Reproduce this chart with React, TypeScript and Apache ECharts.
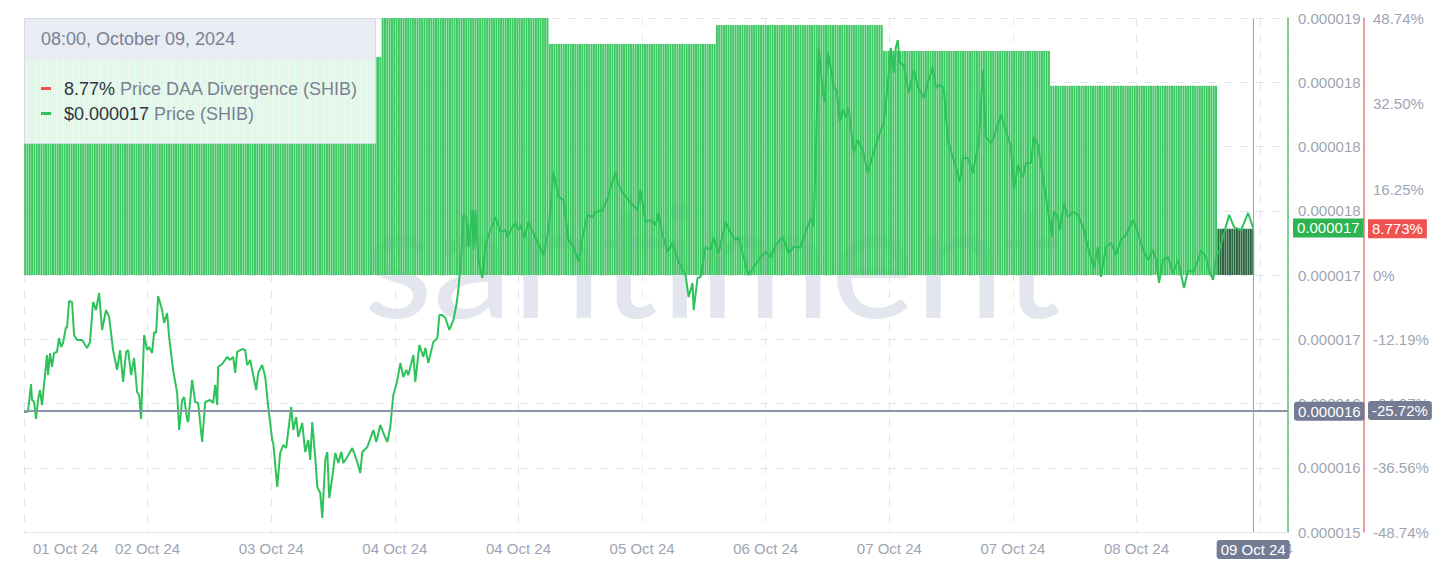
import React, { useEffect, useRef } from 'react';
import * as echarts from 'echarts';

// Time unit: hours since 2024-09-30 12:00 (chart local time)
const EPOCH_HOUR_OF_DAY = 12;
const xMin = 35.5;
const xMax = 217;
const xInterval = 17.75;
const crosshairTime = 212; // 08:00, October 09, 2024
const tooltipTitle = '08:00, October 09, 2024';

// Price DAA Divergence (%), one value per day (day starts at 03:00 local)
const daaDayStarts = [15, 39, 63, 87, 111, 135, 159, 183, 207];
const daaDayNames = ['01 Oct', '02 Oct', '03 Oct', '04 Oct', '05 Oct', '06 Oct', '07 Oct', '08 Oct', '09 Oct'];
const daaValues = [41.2, 41.2, 41.37, 48.745, 43.83, 47.42, 42.5, 35.89, 8.773];
const barStepHours = 1 / 3;
const pctMax = 48.745;
const pctTickFractions = [-1, -0.75, -0.5, -0.25, 0, 1 / 3, 2 / 3, 1];

// Price (SHIB) in micro-USD
const priceTimes = [
  35.5, 36.07, 36.51, 36.65, 36.94, 37.22, 37.51, 37.8, 38.09, 38.37,
  38.8, 38.95, 39.24, 39.52, 39.81, 40.24, 40.53, 40.82, 41.1, 41.54,
  41.68, 41.97, 42.4, 42.69, 43.12, 43.84, 44.55, 44.98, 45.42, 45.85,
  46.28, 46.71, 47.28, 47.72, 48.29, 48.87, 49.3, 49.73, 50.16, 50.45,
  50.88, 51.31, 51.74, 52.03, 52.31, 52.75, 53.18, 53.46, 53.9, 54.18,
  54.47, 54.76, 55.33, 55.62, 56.05, 56.34, 56.91, 57.49, 57.78, 58.21,
  58.49, 58.93, 59.07, 59.64, 60.08, 60.51, 61.08, 61.51, 62.23, 62.66,
  62.95, 63.24, 63.38, 63.96, 64.67, 65.11, 65.54, 65.82, 66.11, 66.83,
  67.26, 67.55, 67.98, 68.41, 68.84, 69.13, 69.7, 70.14, 70.57, 71.14,
  71.29, 71.86, 72.29, 72.72, 73.15, 73.87, 74.16, 74.59, 74.88, 75.45,
  75.88, 76.32, 76.6, 76.89, 77.32, 77.61, 78.04, 78.33, 78.76, 79.05,
  79.33, 79.77, 80.2, 80.63, 81.06, 81.35, 81.92, 82.64, 83.36, 83.79,
  84.08, 84.8, 85.66, 86.09, 86.66, 87.1, 87.67, 88.1, 88.53, 88.82,
  89.11, 89.54, 89.97, 90.4, 90.69, 91.41, 91.69, 92.27, 92.84, 93.13,
  93.56, 94.28, 94.86, 95.14, 95.57, 96.01, 96.58, 97.16, 97.59, 97.87,
  98.3, 98.59,
  99.02, 99.31, 99.88, 100.03, 100.32, 100.75, 101.32, 101.75, 102.47, 103.19,
  103.91, 104.63, 104.92, 105.63, 106.07, 106.5, 106.78, 107.36, 107.93, 108.94,
  110.09, 110.81, 111.53, 112.25, 112.96, 113.68, 114.4, 115.12, 115.69, 116.41,
  117.13, 117.56, 118.57, 119.29, 119.72, 120.44, 120.73, 121.44, 122.31, 123.6,
  124.03, 124.75, 125.47, 126.19, 126.62, 127.19, 127.91, 128.63, 129.49, 130.5,
  130.93, 131.5, 131.65, 132.22, 132.65, 133.37, 134.09, 134.52, 135.24, 136.25,
  136.97, 137.68, 138.11, 138.83, 139.55, 140.27, 141.28, 141.99, 142.71, 143.43,
  144.44, 145.3, 146.02, 147.03, 147.74, 148.46, 148.89, 149.18, 149.61,
  150.19, 150.47, 150.9, 151.48, 151.77, 152.2, 152.63, 153.06, 153.49, 153.92,
  154.64, 155.22, 155.94, 156.66, 157.38, 158.52, 158.96, 159.53, 159.96, 160.39,
  160.68, 160.97, 161.25, 161.83, 162.55, 163.27, 163.84, 164.7, 165.28, 165.99,
  166.43, 166.86, 167.58, 168.15, 168.87, 169.3, 169.88, 170.31, 171.03, 171.75,
  172.18, 172.61, 173.18, 173.61, 174.33, 174.76, 175.77, 176.49, 177.21, 177.64,
  178.21, 178.93, 179.36, 180.08, 180.51, 181.09, 181.81, 182.24, 182.67, 183.1,
  183.39, 183.96, 184.25, 184.83, 185.4, 186.12, 186.84, 187.56, 188.28, 189.13,
  189.71, 190.14, 190.86, 191.58, 192.3, 193.02, 193.73, 194.74, 195.46, 196.18,
  196.9, 197.62, 198.05, 198.48, 199.05, 199.77, 200.49, 201.21, 202.07, 202.65,
  203.37, 204.08, 204.51, 205.23, 205.66, 206.24, 206.67, 207.1, 207.82, 208.54,
  209.26, 210.27, 211.27, 211.71, 212.0,
];
const priceMicro = [
  16.245, 16.247, 16.432, 16.325, 16.314, 16.199, 16.325, 16.392, 16.292, 16.426,
  16.626, 16.492, 16.639, 16.546, 16.639, 16.646, 16.739, 16.679, 16.706, 16.813,
  16.806, 16.986, 16.98, 16.759, 16.726, 16.726, 16.673, 16.713, 16.98, 16.926,
  17.04, 16.793, 16.926, 16.88, 16.659, 16.526, 16.659, 16.446, 16.646, 16.659,
  16.492, 16.606, 16.379, 16.359, 16.199, 16.759, 16.659, 16.679, 16.639, 16.779,
  16.773, 17.02, 16.926, 16.84, 16.906, 16.746, 16.526, 16.372, 16.125, 16.325,
  16.345, 16.192, 16.178, 16.459, 16.312, 16.305, 16.045, 16.312, 16.325, 16.305,
  16.426, 16.292, 16.546, 16.566, 16.613, 16.593, 16.613, 16.506, 16.646, 16.666,
  16.659, 16.559, 16.593, 16.492, 16.392, 16.506, 16.559, 16.479, 16.279, 16.058,
  16.038, 15.745, 15.972, 16.025, 16.005, 16.279, 16.125, 16.212, 16.078, 16.172,
  15.978, 16.058, 15.925, 16.178, 15.945, 15.745, 15.704, 15.538, 15.925, 15.978,
  15.671, 15.811, 15.972, 15.905, 15.978, 15.905, 15.945, 16.005, 15.911, 15.838,
  15.978, 16.012, 16.125, 16.045, 16.159, 16.105, 16.045, 16.145, 16.359, 16.406,
  16.459, 16.572, 16.479, 16.526, 16.492, 16.626, 16.446, 16.693, 16.613, 16.673,
  16.572, 16.713, 16.739, 16.893, 16.893, 16.873, 16.793, 16.86, 16.96, 17.06,
  17.294, 17.561,
  17.547, 17.347, 17.594, 17.327, 17.594, 17.26, 17.14, 17.36, 17.46, 17.547,
  17.447, 17.46, 17.414, 17.48, 17.507, 17.46, 17.494, 17.407, 17.514, 17.407,
  17.294, 17.46, 17.848, 17.681, 17.661, 17.394, 17.347, 17.247, 17.407, 17.561,
  17.547, 17.581, 17.594, 17.674, 17.741, 17.848, 17.781, 17.708, 17.661, 17.594,
  17.728, 17.514, 17.527, 17.494, 17.574, 17.427, 17.314, 17.374, 17.247, 17.16,
  17.013, 17.107, 16.926, 17.14, 17.147, 17.347, 17.327, 17.407, 17.307, 17.514,
  17.441, 17.394, 17.414, 17.28, 17.16, 17.213, 17.28, 17.314, 17.28, 17.36,
  17.414, 17.307, 17.347, 17.347, 17.447, 17.541, 17.48, 17.948, 18.682,
  18.382, 18.315, 18.649, 18.509, 18.409, 18.395, 18.182, 18.262, 18.215, 18.275,
  17.975, 18.061, 17.995, 17.841, 17.961, 18.128, 18.175, 18.429, 18.676, 18.509,
  18.676, 18.729, 18.576, 18.562, 18.375, 18.529, 18.415, 18.342, 18.442, 18.549,
  18.409, 18.429, 18.409, 18.061, 17.948, 17.881, 17.781, 17.941, 17.941, 17.841,
  17.948, 18.048, 18.529, 18.081, 18.041, 18.081, 18.228, 18.128, 18.015, 17.728,
  17.894, 17.814, 17.908, 17.908, 18.081, 18.028, 17.814, 17.681, 17.547, 17.414,
  17.581, 17.547, 17.46, 17.641, 17.547, 17.581, 17.561, 17.48, 17.347, 17.207,
  17.347, 17.147, 17.347, 17.374, 17.294, 17.394, 17.427, 17.527, 17.441, 17.327,
  17.26, 17.327, 17.26, 17.107, 17.26, 17.28, 17.173, 17.26, 17.073, 17.193,
  17.18, 17.26, 17.327, 17.28, 17.193, 17.127, 17.28, 17.314, 17.441, 17.561,
  17.48, 17.46, 17.574, 17.514, 17.474,
];

// Price axis in nano-USD
const priceAxisMin = 15444;
const priceAxisMax = 18876;
const priceAxisInterval = 429;
const crosshairPriceMicro = 16.251;
const crosshairPct = -25.72;

const FONT = '"Liberation Sans", Arial, Helvetica, sans-serif';
const GREY = '#9ea5b4';

const fmtDate = (v: number) => {
  const day = Math.floor((v + EPOCH_HOUR_OF_DAY) / 24);
  return String(day).padStart(2, '0') + ' Oct 24';
};
const fmtPrice = (nano: number) => (nano / 1e9).toFixed(6);
const fmtPct = (v: number) => (Math.abs(v) < 1e-9 ? '0%' : v.toFixed(2) + '%');

export default function App() {
  const ref = useRef<HTMLDivElement>(null);

  useEffect(() => {
    document.body.style.margin = '0';
    if (!ref.current) return;
    const chart = echarts.init(ref.current, null, { renderer: 'svg' });

    const daaAt = (t: number) => {
      let j = 0;
      for (let k = 0; k < daaDayStarts.length; k++) if (daaDayStarts[k] <= t) j = k;
      return j;
    };
    const lastDayIdx = daaValues.length - 1;
    const barCount = Math.floor((crosshairTime - xMin - barStepHours / 2) / barStepHours) + 1;
    const barData: any[] = [];
    for (let i = barCount - 1; i >= 0; i--) {
      const t = crosshairTime - i * barStepHours;
      const j = daaAt(t);
      barData.push({
        value: [t, daaValues[j]],
        itemStyle: j === lastDayIdx ? { color: '#2b6541' } : undefined,
      });
    }
    const priceData = priceTimes.map((t, i) => [t, Math.round(priceMicro[i] * 1000)]);
    const lastPriceNano = Math.round(priceMicro[priceMicro.length - 1] * 1000);
    const lastDaa = daaValues[lastDayIdx];
    const pctTicks = pctTickFractions.map((f) => f * pctMax);

    const pointerLabel = {
      show: true,
      backgroundColor: '#737c93',
      color: '#ffffff',
      padding: [2, 4],
      fontSize: 15,
      fontFamily: FONT,
    };

    const option: any = {
      animation: false,
      textStyle: { fontFamily: FONT },
      grid: { left: 24, right: 149, top: 18, bottom: 29, containLabel: false },
      xAxis: {
        type: 'value',
        min: xMin,
        max: xMax,
        interval: xInterval,
        axisLine: { show: true, onZero: false, lineStyle: { color: '#dfe3ea' } },
        axisTick: { show: false },
        axisLabel: {
          color: GREY,
          fontSize: 15,
          margin: 9,
          alignMinLabel: 'left',
          formatter: (v: number, idx: number) => (idx === 0 ? '{m|' + fmtDate(v) + '}' : fmtDate(v)),
          rich: { m: { color: GREY, fontSize: 15, fontFamily: FONT, padding: [0, 0, 0, 9] } },
        },
        splitLine: { show: true, lineStyle: { color: '#e3e6ec', type: [8, 8] } },
        axisPointer: {
          show: true,
          type: 'line',
          value: crosshairTime,
          status: 'show',
          snap: false,
          triggerTooltip: false,
          lineStyle: { color: '#9aa2b6', width: 1, type: 'solid' },
          label: { ...pointerLabel, margin: 8, formatter: (p: any) => fmtDate(p.value) },
        },
      },
      yAxis: [
        {
          type: 'value',
          position: 'right',
          min: priceAxisMin,
          max: priceAxisMax,
          interval: priceAxisInterval,
          axisLine: { show: true, onZero: false, lineStyle: { color: '#5cc277', width: 1.5 } },
          axisTick: { show: false },
          axisLabel: { color: GREY, fontSize: 15, margin: 10, formatter: fmtPrice },
          splitLine: { show: true, lineStyle: { color: '#e3e6ec', type: [8, 8] } },
          axisPointer: {
            show: true,
            type: 'line',
            value: Math.round(crosshairPriceMicro * 1000),
            status: 'show',
            snap: false,
            triggerTooltip: false,
            lineStyle: { color: '#8b94a9', width: 1, type: 'solid' },
            label: { ...pointerLabel, margin: 6, formatter: (p: any) => fmtPrice(p.value) },
          },
        },
        {
          type: 'value',
          position: 'right',
          offset: 76,
          min: -pctMax,
          max: pctMax,
          axisLine: { show: true, onZero: false, lineStyle: { color: '#e87a7a', width: 1.5 } },
          axisTick: { show: false },
          axisLabel: { color: GREY, fontSize: 15, margin: 9, customValues: pctTicks, formatter: fmtPct },
          splitLine: { show: false },
          axisPointer: {
            show: true,
            type: 'line',
            value: crosshairPct,
            status: 'show',
            snap: false,
            triggerTooltip: false,
            lineStyle: { color: '#8b94a9', width: 1, type: 'solid' },
            label: { ...pointerLabel, margin: 4, formatter: (p: any) => fmtPct(p.value) },
          },
        },
      ],
      series: [
        {
          name: 'Price DAA Divergence (SHIB)',
          type: 'bar',
          xAxisIndex: 0,
          yAxisIndex: 1,
          barWidth: 2,
          z: 2,
          itemStyle: { color: '#40c865' },
          data: barData,
          markLine: {
            silent: true,
            symbol: ['none', 'none'],
            lineStyle: { color: 'rgba(0,0,0,0)', width: 0 },
            label: {
              position: 'end',
              distance: 80,
              formatter: () => lastDaa.toFixed(3) + '%',
              backgroundColor: '#ef5350',
              color: '#ffffff',
              padding: [2, 4],
              fontSize: 15,
              fontFamily: FONT,
            },
            data: [{ yAxis: lastDaa }],
          },
        },
        {
          name: 'Price (SHIB)',
          type: 'line',
          xAxisIndex: 0,
          yAxisIndex: 0,
          showSymbol: false,
          symbol: 'none',
          z: 3,
          lineStyle: { color: '#2ec35a', width: 2 },
          data: priceData,
          markLine: {
            silent: true,
            symbol: ['none', 'none'],
            lineStyle: { color: 'rgba(0,0,0,0)', width: 0 },
            label: {
              position: 'end',
              distance: 5,
              formatter: () => fmtPrice(lastPriceNano),
              backgroundColor: '#2bb44f',
              color: '#ffffff',
              padding: [2, 4],
              fontSize: 15,
              fontFamily: FONT,
            },
            data: [{ yAxis: lastPriceNano }],
          },
        },
      ],
      graphic: [
        {
          type: 'text',
          x: 712,
          y: 256,
          z: 1,
          silent: true,
          style: {
            text: 'santiment',
            fontSize: 160,
            fontFamily: 'Lato, "Open Sans", sans-serif',
            fill: '#e3e6ef',
            align: 'center',
            verticalAlign: 'middle',
          },
        },
        {
          type: 'group',
          z: 100,
          children: [
            { type: 'rect', z: 100, shape: { x: 24, y: 18, width: 351, height: 42 }, style: { fill: '#e9ecf3' } },
            { type: 'rect', z: 100, shape: { x: 24, y: 60, width: 351, height: 83 }, style: { fill: 'rgba(255,255,255,0.84)' } },
            { type: 'rect', z: 101, shape: { x: 24.5, y: 18.5, width: 351, height: 125 }, style: { fill: 'none', stroke: '#d6dae3', lineWidth: 1 } },
            {
              type: 'text', z: 102, x: 41, y: 39,
              style: { text: tooltipTitle, fontSize: 18, fontFamily: FONT, fill: '#7a8194', verticalAlign: 'middle' },
            },
            { type: 'rect', z: 102, shape: { x: 41, y: 87, width: 10, height: 3 }, style: { fill: '#ef5350' } },
            {
              type: 'text', z: 102, x: 64, y: 89,
              style: {
                text: '{v|' + lastDaa.toFixed(2) + '%} {l|Price DAA Divergence (SHIB)}',
                fontSize: 18, fontFamily: FONT, verticalAlign: 'middle',
                rich: {
                  v: { fill: '#2f3441', fontSize: 18, fontFamily: FONT },
                  l: { fill: '#7a8194', fontSize: 18, fontFamily: FONT },
                },
              },
            },
            { type: 'rect', z: 102, shape: { x: 41, y: 112, width: 10, height: 3 }, style: { fill: '#2ec35a' } },
            {
              type: 'text', z: 102, x: 64, y: 114,
              style: {
                text: '{v|$' + (priceMicro[priceMicro.length - 1] / 1e6).toFixed(6) + '} {l|Price (SHIB)}',
                fontSize: 18, fontFamily: FONT, verticalAlign: 'middle',
                rich: {
                  v: { fill: '#2f3441', fontSize: 18, fontFamily: FONT },
                  l: { fill: '#7a8194', fontSize: 18, fontFamily: FONT },
                },
              },
            },
          ],
        },
      ],
    };

    chart.setOption(option);
    return () => chart.dispose();
  }, []);

  return <div ref={ref} style={{ width: 1437, height: 561 }} />;
}
